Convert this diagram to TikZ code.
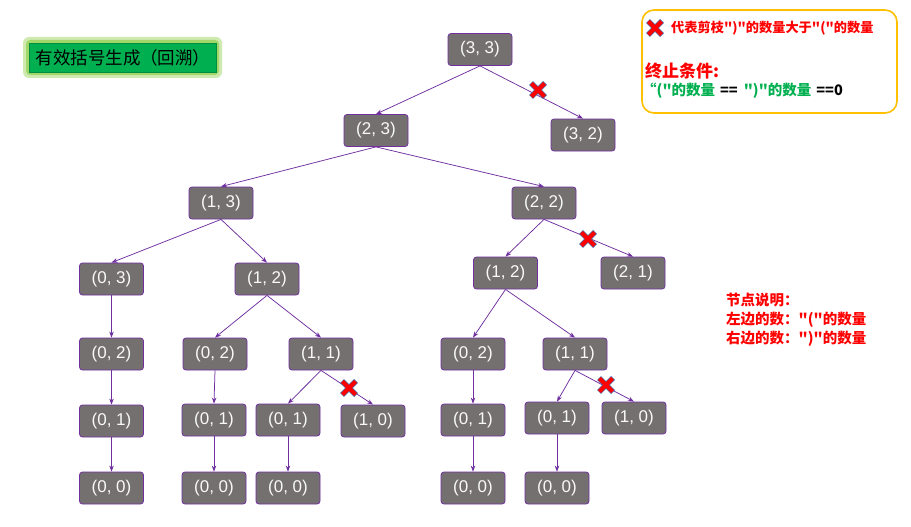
\documentclass[tikz,border=0pt]{standalone}
\usepackage{fontspec}
\setmainfont{Liberation Sans}
\newfontfamily\cjk{Noto Sans CJK SC}
\usetikzlibrary{arrows.meta}
\definecolor{nodegray}{HTML}{757070}
\definecolor{edgepurple}{HTML}{7030A0}
\definecolor{titlegreen}{HTML}{00B050}
\definecolor{glowgreen}{HTML}{92D050}
\definecolor{legendborder}{HTML}{FFC000}
\definecolor{legred}{HTML}{FF0000}
\definecolor{leggreen}{HTML}{00B050}
\definecolor{xblue}{HTML}{4A6FA8}
\tikzset{
  pnode/.style={draw=edgepurple, line width=0.8pt, fill=nodegray, rounded corners=3pt,
    minimum width=64pt, minimum height=32pt, inner sep=0pt, text=white!95!gray,
    font=\fontsize{17}{17}\selectfont},
  edge/.style={draw=edgepurple, line width=0.75pt, -{Stealth[length=6pt,width=4.5pt]}},
  redtext/.style={text=legred, font=\cjk\bfseries\fontsize{13.5}{17}\selectfont, inner sep=0pt, anchor=west},
}
\newcommand{\pruneX}[1]{%
  \begin{scope}[shift={#1}]
    \draw[xblue, line width=5.6pt] (-7,-7) -- (7,7) (-7,7) -- (7,-7);
    \draw[legred, line width=4pt] (-6.6,-6.6) -- (6.6,6.6) (-6.6,6.6) -- (6.6,-6.6);
  \end{scope}}
\begin{document}
\begin{tikzpicture}[x=1pt, y=-1pt]
\useasboundingbox (0,0) rectangle (911,527);
\fill[white] (0,0) rectangle (911,527);

% title
\fill[glowgreen!45, rounded corners=6pt] (23,37) rectangle (222,78);
\fill[glowgreen!85, rounded corners=4pt] (26,40) rectangle (219,75);
\node[fill=titlegreen, draw=titlegreen!80!black, line width=0.4pt, minimum width=187pt, minimum height=29pt, inner sep=0pt,
  font=\cjk\fontsize{17.5}{17.5}\selectfont] (title) at (123,57.5) {有效括号生成（回溯）};

% legend
\draw[legendborder, line width=1.6pt, rounded corners=12pt] (642,10) rectangle (897,113) ;
\coordinate (lx) at (655,28);
\pruneX{(lx)}
\node[redtext, font=\cjk\bfseries\fontsize{13.2}{15}\selectfont] (leg1) at (671,28) {代表剪枝")"的数量大于"("的数量};
\node[redtext, font=\cjk\bfseries\fontsize{17}{20}\selectfont] (leg2) at (645,71) {终止条件:};
\node[anchor=west, inner sep=0pt, font=\cjk\bfseries\fontsize{14.5}{17}\selectfont] (leg3) at (642,91)
  {\textcolor{leggreen}{“("的数量}\hspace{5pt}==\hspace{6pt}\textcolor{leggreen}{")"的数量}\hspace{5pt}==0};

% node explanation
\node[redtext, align=left, font=\cjk\bfseries\fontsize{14.5}{19}\selectfont, anchor=north west] (expl) at (726,293)
  {节点说明：\\左边的数："("的数量\\右边的数：")"的数量};

% nodes
\node[pnode] (n33) at (480,49.5) {(3, 3)};
\node[pnode] (n32) at (583,135) {(3, 2)};
\node[pnode] (n23) at (376,130.5) {(2, 3)};
\node[pnode] (n13) at (221,203) {(1, 3)};
\node[pnode] (n22) at (544,203) {(2, 2)};
\node[pnode] (n03) at (111.5,279) {(0, 3)};
\node[pnode] (n12a) at (267,279) {(1, 2)};
\node[pnode] (n12b) at (505.5,273) {(1, 2)};
\node[pnode] (n21) at (633,273) {(2, 1)};
\node[pnode] (n02a) at (111.5,354) {(0, 2)};
\node[pnode] (n02b) at (215,354) {(0, 2)};
\node[pnode] (n11a) at (321,354) {(1, 1)};
\node[pnode] (n02c) at (473,354) {(0, 2)};
\node[pnode] (n11b) at (575,354) {(1, 1)};
\node[pnode] (n01a) at (111.5,421) {(0, 1)};
\node[pnode] (n01b) at (214,420) {(0, 1)};
\node[pnode] (n01c) at (288,420) {(0, 1)};
\node[pnode] (n10a) at (373,421) {(1, 0)};
\node[pnode] (n01d) at (473,420) {(0, 1)};
\node[pnode] (n01e) at (557,418) {(0, 1)};
\node[pnode] (n10b) at (634,418) {(1, 0)};
\node[pnode] (n00a) at (111.5,488) {(0, 0)};
\node[pnode] (n00b) at (214,488) {(0, 0)};
\node[pnode] (n00c) at (288,488) {(0, 0)};
\node[pnode] (n00d) at (473,488) {(0, 0)};
\node[pnode] (n00e) at (557,488) {(0, 0)};

% edges
\draw[edge] (n33.south) -- (n23.north);
\draw[edge] (n33.south) -- (n32.north);
\draw[edge] (n23.south) -- (n13.north);
\draw[edge] (n23.south) -- (n22.north);
\draw[edge] (n13.south) -- (n03.north);
\draw[edge] (n13.south) -- (n12a.north);
\draw[edge] (n22.south) -- (n12b.north);
\draw[edge] (n22.south) -- (n21.north);
\draw[edge] (n03.south) -- (n02a.north);
\draw[edge] (n12a.south) -- (n02b.north);
\draw[edge] (n12a.south) -- (n11a.north);
\draw[edge] (n12b.south) -- (n02c.north);
\draw[edge] (n12b.south) -- (n11b.north);
\draw[edge] (n02a.south) -- (n01a.north);
\draw[edge] (n02b.south) -- (n01b.north);
\draw[edge] (n11a.south) -- (n01c.north);
\draw[edge] (n11a.south) -- (n10a.north);
\draw[edge] (n02c.south) -- (n01d.north);
\draw[edge] (n11b.south) -- (n01e.north);
\draw[edge] (n11b.south) -- (n10b.north);
\draw[edge] (n01a.south) -- (n00a.north);
\draw[edge] (n01b.south) -- (n00b.north);
\draw[edge] (n01c.south) -- (n00c.north);
\draw[edge] (n01d.south) -- (n00d.north);
\draw[edge] (n01e.south) -- (n00e.north);

% prune marks
\coordinate (x1) at (538,90);
\coordinate (x2) at (588,239);
\coordinate (x3) at (349,388);
\coordinate (x4) at (606,385);
\pruneX{(x1)}
\pruneX{(x2)}
\pruneX{(x3)}
\pruneX{(x4)}
\end{tikzpicture}
\end{document}
